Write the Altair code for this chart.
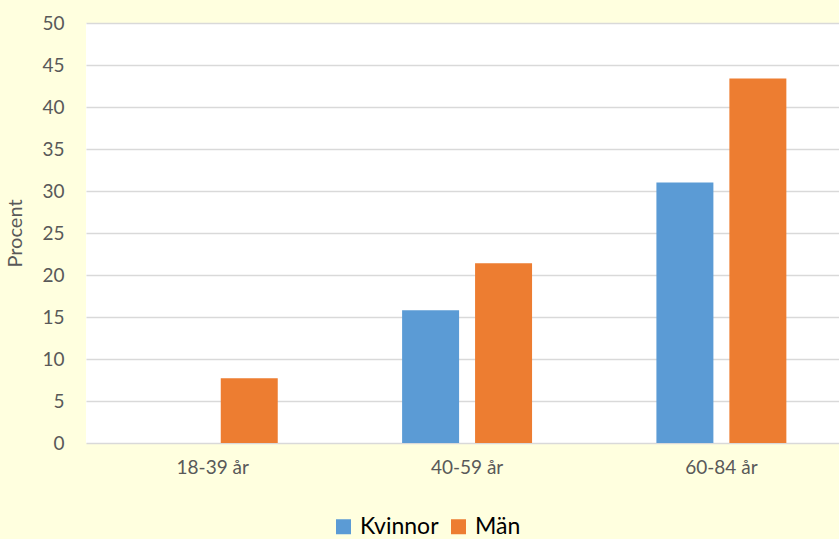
import altair as alt
import pandas as pd

# Andel (procent) per åldersgrupp och kön
age_groups = ["18-39 år", "40-59 år", "60-84 år"]
kvinnor = [None, 15.8, 31.0]
man = [7.7, 21.4, 43.4]
series = ["Kvinnor", "Män"]
colors = ["#5B9BD5", "#ED7D31"]

rows = []
for i, g in enumerate(age_groups):
    rows.append({"grupp": g, "kon": "Kvinnor", "procent": kvinnor[i]})
    rows.append({"grupp": g, "kon": "Män", "procent": man[i]})
df = pd.DataFrame(rows).dropna()

font = "Lato"
label_color = "#595959"

chart = (
    alt.Chart(df)
    .mark_bar()
    .encode(
        x=alt.X(
            "grupp:N",
            sort=age_groups,
            scale=alt.Scale(paddingInner=0.489, paddingOuter=0.225, align=0.54),
            axis=alt.Axis(
                title=None, labelAngle=0, ticks=False, domain=False,
                labelFont=font, labelFontSize=19, labelColor=label_color,
                labelPadding=15,
            ),
        ),
        xOffset=alt.XOffset(
            "kon:N", sort=series,
            scale=alt.Scale(paddingInner=0.219, paddingOuter=0),
        ),
        y=alt.Y(
            "procent:Q",
            scale=alt.Scale(domain=[0, 50]),
            axis=alt.Axis(
                title="Procent", values=list(range(0, 51, 5)), ticks=False,
                domain=False, grid=True, gridColor="#D9D9D9", gridWidth=1.5,
                labelFont=font, labelFontSize=19, labelColor=label_color,
                labelPadding=22, titleFont=font, titleFontSize=20,
                titleFontWeight="normal", titleColor=label_color, titlePadding=16,
            ),
        ),
        color=alt.Color(
            "kon:N",
            sort=series,
            scale=alt.Scale(domain=series, range=colors),
            legend=alt.Legend(
                title=None, orient="none", direction="horizontal",
                legendX=246, legendY=492, symbolType="square", symbolSize=225,
                symbolStrokeWidth=0, labelFont=font, labelFontSize=23,
                labelColor="#000000", columnPadding=8, labelOffset=5,
            ),
        ),
    )
    .properties(
        width=753,
        height=420,
        background="#FFFFDF",
        padding={"left": 86, "top": 23, "right": 0, "bottom": 96},
        autosize=alt.AutoSizeParams(type="none"),
    )
    .configure_view(fill="#FFFFFF", stroke=None)
)

chart.save("out.html", embed_options={"renderer": "svg", "actions": False})
